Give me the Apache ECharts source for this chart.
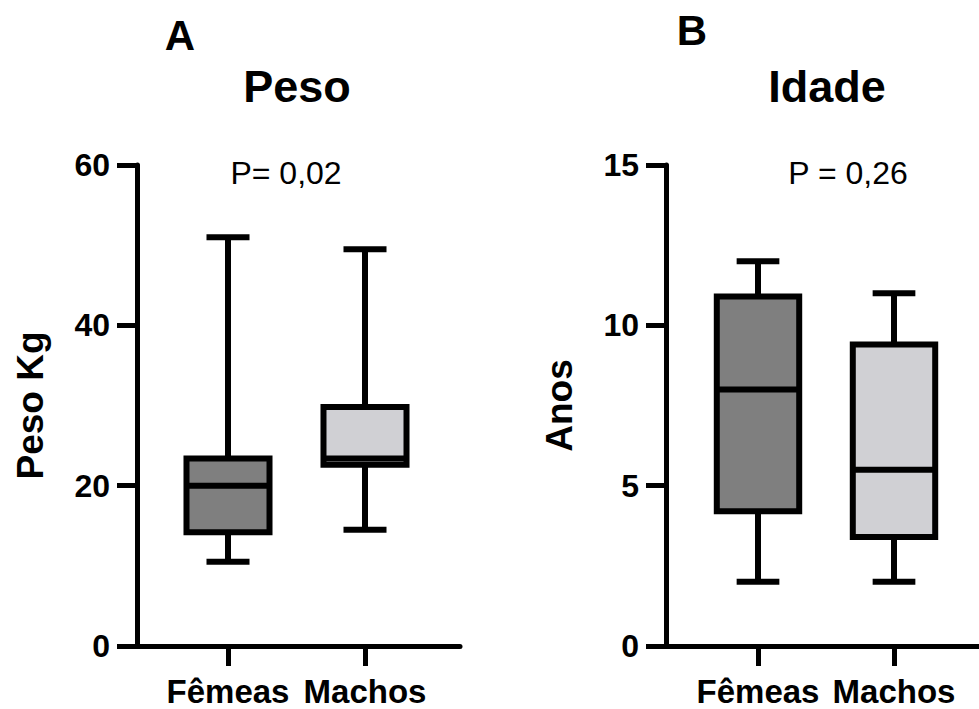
<!DOCTYPE html>
<html><head><meta charset="utf-8">
<script src="https://cdn.jsdelivr.net/npm/echarts@6/dist/echarts.min.js"></script>
<style>html,body{margin:0;padding:0;background:#fff}#c{width:979px;height:709px}</style>
</head><body><div id="c"></div>
<script>
// ---- data ----
const categories = ['Fêmeas', 'Machos'];
// [min, Q1, median, Q3, max]
const pesoFemeas = [10.5, 14.2, 20.0, 23.4, 51.0];
const pesoMachos = [14.5, 22.6, 23.4, 29.8, 49.5];
const idadeFemeas = [2.0, 4.2, 8.0, 10.9, 12.0];
const idadeMachos = [2.0, 3.4, 5.5, 9.4, 11.0];
const pesoAxis = { min: 0, max: 60, interval: 20 };
const idadeAxis = { min: 0, max: 15, interval: 5 };
const panelLetters = ['A', 'B'];
const panelTitles = ['Peso', 'Idade'];
const pValues = ['P= 0,02', 'P = 0,26'];
const yNames = ['Peso Kg', 'Anos'];

// ---- style ----
const FONT = "'Liberation Sans', Arial, sans-serif";
const fills = ['#7f7f7f', '#d0d0d4'];
const LW = 6;

function boxItem(params, api) {
  const idx = api.value(0);
  const v = [api.value(1), api.value(2), api.value(3), api.value(4), api.value(5)];
  const band = api.size([1, 0])[0];
  const bw = band * 0.606, cw = band * 0.314;
  const p = v.map(val => api.coord([idx, val]));
  const x = p[0][0];
  const ls = { stroke: '#000', lineWidth: LW };
  return {
    type: 'group',
    children: [
      { type: 'line', shape: { x1: x, y1: p[4][1], x2: x, y2: p[3][1] }, style: ls },
      { type: 'line', shape: { x1: x, y1: p[0][1], x2: x, y2: p[1][1] }, style: ls },
      { type: 'line', shape: { x1: x - cw / 2, y1: p[4][1], x2: x + cw / 2, y2: p[4][1] }, style: ls },
      { type: 'line', shape: { x1: x - cw / 2, y1: p[0][1], x2: x + cw / 2, y2: p[0][1] }, style: ls },
      { type: 'rect', shape: { x: x - bw / 2, y: p[3][1], width: bw, height: p[1][1] - p[3][1] },
        style: { fill: fills[idx], stroke: '#000', lineWidth: LW } },
      { type: 'line', shape: { x1: x - bw / 2, y1: p[2][1], x2: x + bw / 2, y2: p[2][1] }, style: ls }
    ]
  };
}

const axisGrids = [
  { left: 137, top: 165, width: 323, height: 481 },
  { left: 666, top: 165, width: 340, height: 481 }
];
const boxGrids = [
  { left: 159.5, top: 165, width: 274, height: 481 },
  { left: 690, top: 165, width: 272, height: 481 }
];
const yRanges = [pesoAxis, idadeAxis];
const seriesData = [
  [[0, ...pesoFemeas], [1, ...pesoMachos]],
  [[0, ...idadeFemeas], [1, ...idadeMachos]]
];

const grid = [axisGrids[0], boxGrids[0], axisGrids[1], boxGrids[1]];
const xAxis = [], yAxis = [], series = [];
for (let k = 0; k < 2; k++) {
  const ga = 2 * k, gb = 2 * k + 1;
  xAxis.push({
    gridIndex: ga, type: 'value', min: 0, max: 1,
    axisLine: { show: true, onZero: false, lineStyle: { color: '#000', width: 5 } },
    axisTick: { show: false }, axisLabel: { show: false }, splitLine: { show: false }
  });
  xAxis.push({
    gridIndex: gb, type: 'category', data: categories,
    axisLine: { show: false },
    axisTick: { show: true, alignWithLabel: true, interval: 0, length: 20, lineStyle: { color: '#000', width: 5 } },
    axisLabel: { interval: 0, hideOverlap: false, margin: 30, fontSize: 33, lineHeight: 31,
      fontWeight: 'bold', color: '#000', fontFamily: FONT },
    splitLine: { show: false }
  });
  yAxis.push({
    gridIndex: ga, type: 'value', min: yRanges[k].min, max: yRanges[k].max, interval: yRanges[k].interval,
    axisLine: { show: true, onZero: false, lineStyle: { color: '#000', width: 5 } },
    axisTick: { show: true, length: 20, lineStyle: { color: '#000', width: 5 } },
    axisLabel: { margin: 27, fontSize: 32, fontWeight: 'bold', color: '#000', fontFamily: FONT },
    splitLine: { show: false },
    name: yNames[k], nameLocation: 'middle', nameGap: 88,
    nameTextStyle: { fontSize: 37, fontWeight: 'bold', color: '#000', fontFamily: FONT }
  });
  yAxis.push({
    gridIndex: gb, type: 'value', min: yRanges[k].min, max: yRanges[k].max, show: false
  });
  series.push({
    type: 'custom', xAxisIndex: 2 * k + 1, yAxisIndex: 2 * k + 1,
    renderItem: boxItem, data: seriesData[k], encode: { x: 0, y: [1, 2, 3, 4, 5] },
    silent: true, z: 5
  });
}

function t(text, left, top, size, weight) {
  return { text, left, top, padding: 0, textAlign: 'center',
    textStyle: { fontSize: size, fontWeight: weight, color: '#000', fontFamily: FONT } };
}
const title = [
  t(panelLetters[0], 180, 14, 42, 'bold'),
  t(panelLetters[1], 692, 9, 42, 'bold'),
  t(panelTitles[0], 297, 64, 45, 'bold'),
  t(panelTitles[1], 827, 64, 45, 'bold'),
  t(pValues[0], 286, 157, 32, 'normal'),
  t(pValues[1], 848, 157, 32, 'normal')
];

const chart = echarts.init(document.getElementById('c'), null, { renderer: 'svg' });
chart.setOption({
  backgroundColor: '#fff',
  animation: false,
  title, grid, xAxis, yAxis, series
});
</script></body></html>
